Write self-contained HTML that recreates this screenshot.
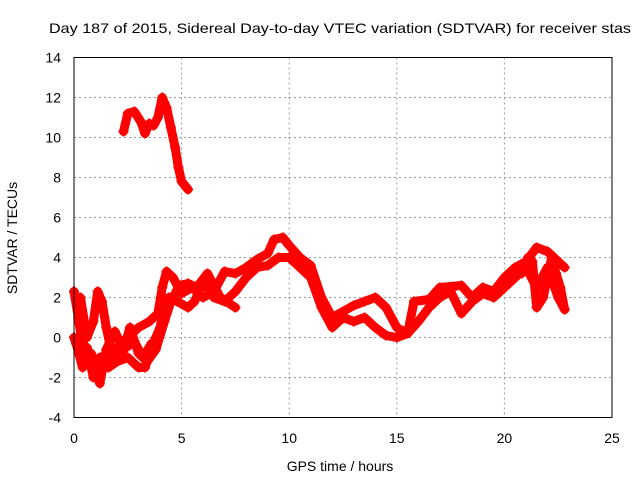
<!DOCTYPE html>
<html><head><meta charset="utf-8">
<style>
body{margin:0;background:#fff;}
svg{display:block;font-family:"Liberation Sans",sans-serif;}
</style></head>
<body>
<svg id="chart" width="640" height="480" viewBox="0 0 640 480">
<rect width="640" height="480" fill="#fff"/>
<text x="49" y="33" font-size="14" fill="#000" textLength="582" lengthAdjust="spacingAndGlyphs">Day 187 of 2015, Sidereal Day-to-day VTEC variation (SDTVAR) for receiver stas</text>
<g id="grid"></g>
<g id="marks"></g>
<rect x="74" y="57.5" width="538" height="360" fill="none" stroke="#000" stroke-width="1"/>
<g id="ticks"></g>
<text x="17" y="238" font-size="14" text-anchor="middle" transform="rotate(-90 17 238)">SDTVAR / TECUs</text>
<text x="340" y="471" font-size="14" text-anchor="middle">GPS time / hours</text>
</svg>
<script>
const xTicks=[0,5,10,15,20,25];
const yTicks=[-4,-2,0,2,4,6,8,10,12,14];
const trackUpperT=[2.3,2.5,2.8,3.1,3.3,3.5,3.7,3.9,4.1,4.3,4.5,4.7,4.85,5.0,5.3];
const trackUpperV=[10.3,11.2,11.3,10.8,10.2,10.7,10.6,11.0,12.0,11.5,10.5,9.5,8.5,7.8,7.4];
const trackAT=[0,0.2,0.4,0.7,1.0,1.3,1.7,2.0,2.5,3.0,3.5,3.9,4.1,4.3,4.6,5.0,5.5,6.0,6.5,7.0,7.5,8.0,8.5,9.0,9.3,9.7,10.0,10.5,11.0,11.5,12.0,12.5,13.0,13.5,14.0,14.5,15.0,15.5,15.8,16.5,17.0,18.0,18.5,19.0,19.5,20.0,20.5,21.0,21.5,22.0,22.5,22.8];
const trackAV=[2.3,1.0,-0.5,-1.2,-1.8,-1.0,-1.3,-0.5,0.0,0.5,0.8,1.2,2.5,3.3,3.0,2.2,2.5,2.0,2.3,3.3,3.2,3.5,3.9,4.2,4.9,5.0,4.6,4.0,3.6,2.0,1.0,1.3,1.6,1.8,2.0,1.5,0.5,0.2,1.8,1.9,2.5,2.6,2.0,2.5,2.3,3.0,3.5,3.8,4.5,4.3,3.8,3.5];
const trackBT=[0,0.3,0.6,0.9,1.2,1.6,2.0,2.5,3.0,3.3,3.6,4.0,4.2,4.4,4.8,5.3,5.6,6.0,6.5,7.0,7.5,8.0,8.5,9.0,9.5,10.0,10.5,11.0,11.5,12.0,12.5,13.0,13.5,14.0,14.5,15.0,15.5,16.0,16.5,17.0,17.5,18.0,18.5,19.0,19.5,20.0,20.5,21.0,21.5,22.0,22.5,22.8];
const trackBV=[0,-1,-0.5,-2.0,-1.0,-1.5,-1.2,-1.0,-1.5,-1.5,-0.5,0.5,1.5,2.0,1.8,1.5,1.8,2.8,2.0,1.8,2.3,3.0,3.5,3.6,4.0,4.0,3.5,3.0,1.5,0.5,1.0,0.8,1.0,0.5,0.1,0.0,0.2,0.8,1.5,2.0,2.3,1.2,1.8,2.2,2.0,2.5,3.0,3.5,2.5,3.5,2.0,1.4];
const trackCT=[0.3,0.6,0.9,1.1,1.3,1.5,1.8,2.2,2.6,3.0,3.4,3.8,4.2,4.5,4.9,5.3,5.7,6.2,6.8,7.5];
const trackCV=[2.0,0.0,0.8,2.3,1.8,0.5,-1.0,-1.0,0.5,-0.8,-1.2,-0.6,0.8,1.8,2.6,2.7,2.5,3.2,2.0,1.5];
const trackDT=[20.8,21.1,21.3,21.5,21.8,22.0,22.2,22.4,22.6,22.8];
const trackDV=[3.2,4.0,3.8,1.5,2.0,3.0,4.0,3.2,2.5,1.4];
const trackET=[0.1,0.4,0.8,1.2,1.5,1.9,2.3,2.8,3.2,3.6];
const trackEV=[-0.3,-1.5,-0.8,-2.3,-0.6,0.3,-0.6,-0.2,-1.0,-0.3];

const X=t=>74+t*538/25;
const Y=v=>337.5-v*20;
const NS='http://www.w3.org/2000/svg';
const grid=document.getElementById('grid'),ticks=document.getElementById('ticks'),marks=document.getElementById('marks');
function mk(tag,attrs,parent){const e=document.createElementNS(NS,tag);for(const k in attrs)e.setAttribute(k,attrs[k]);parent.appendChild(e);return e;}
xTicks.forEach(t=>{
  if(t>0&&t<25){const g=mk('line',{x1:X(t),x2:X(t),y1:57.5,y2:417.5,stroke:'#999','stroke-dasharray':'2,3'},grid);
  
  }
  const l=mk('text',{x:X(t),y:443,'font-size':14,'text-anchor':'middle'},ticks);l.textContent=t;
  
  
});
yTicks.forEach(v=>{
  if(v>-4&&v<14){const g=mk('line',{x1:74,x2:612,y1:Y(v),y2:Y(v),stroke:'#999','stroke-dasharray':'2,3'},grid);
  
  }
  const l=mk('text',{x:61,y:Y(v)+5,'font-size':14,'text-anchor':'end'},ticks);l.textContent=v;
  
  
});
function track(ts,vs,name){
  const pts=ts.map((t,i)=>X(t)+','+Y(vs[i])).join(' ');
  const p=mk('polyline',{points:pts,fill:'none',stroke:'#ff0000','stroke-width':9,'stroke-linejoin':'round','stroke-linecap':'round'},marks);
  
  
  ts.forEach((t,i)=>{
    const m=mk('path',{d:`M${X(t)-5},${Y(vs[i])}h10M${X(t)},${Y(vs[i])-5}v10`,stroke:'#ff0000','stroke-width':2},marks);
    
    
  });
}
track(trackUpperT,trackUpperV,'track-upper');
track(trackAT,trackAV,'track-a');
track(trackBT,trackBV,'track-b');
track(trackCT,trackCV,'track-c');
track(trackDT,trackDV,'track-d');
track(trackET,trackEV,'track-e');
</script>
</body></html>
